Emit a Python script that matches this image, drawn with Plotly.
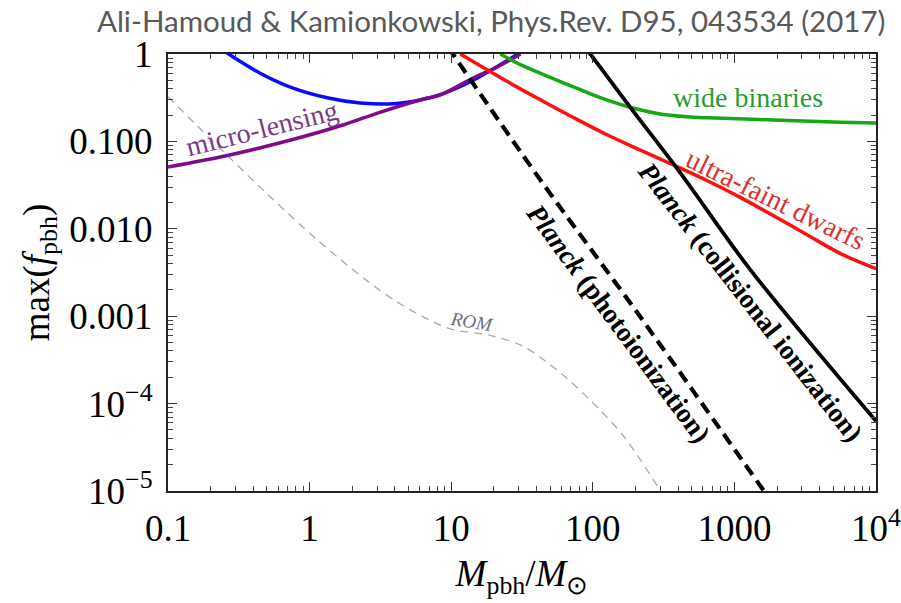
import numpy as np
import plotly.graph_objects as go

# ---- data ----
rom_m = [0.1, 0.158, 0.251, 0.501, 1.12, 2.57, 4.37, 7.41, 10, 19.1, 32.4, 56.2, 95.5, 166, 288, 316]
rom_f = [0.324, 0.155, 0.0741, 0.0251, 0.00759, 0.00251, 0.00138, 0.00087, 0.00071, 0.00060,
         0.00045, 0.00024, 0.00011, 4.2e-5, 1.12e-5, 8.9e-6]

blue_m = [0.251, 0.447, 0.764, 1.33, 2.28, 3.89, 6.03, 8.91, 14.3, 29.5]
blue_f = [1.07, 0.603, 0.407, 0.316, 0.275, 0.269, 0.298, 0.355, 0.50, 1.0]

ml_m = [0.1, 0.263, 0.759, 1.74, 3.02, 6.03, 8.32, 14.3, 21.1, 30.9]
ml_f = [0.051, 0.069, 0.105, 0.155, 0.211, 0.298, 0.339, 0.531, 0.708, 1.0]

wb_m = [22.2, 32.3, 56.1, 81.7, 113, 175, 286, 466, 644, 1890, 5610, 10000]
wb_f = [1.0, 0.73, 0.50, 0.39, 0.316, 0.251, 0.209, 0.191, 0.186, 0.176, 0.166, 0.162]

ufd_m = [11.6, 24.9, 42.6, 72.8, 126, 217, 371, 644, 1100, 1890, 3280, 5610, 10000]
ufd_f = [1.0, 0.484, 0.299, 0.188, 0.119, 0.0794, 0.0537, 0.0355, 0.0229, 0.0141, 0.0085, 0.0052, 0.0035]

photo_m = [9.5, 42.6, 206, 1603, 2500]
photo_f = [1.2, 0.0363, 0.0011, 1.02e-5, 3.7e-6]

coll_m = [90, 184, 415, 1297, 10000]
coll_f = [1.15, 0.245, 0.0437, 0.00339, 6.3e-5]

x_tickvals = [0.1, 1, 10, 100, 1000, 10000]
x_ticktext = ["0.1", "1", "10", "100", "1000", "10<sup>4</sup>"]
y_tickvals = [1, 0.1, 0.01, 0.001, 1e-4, 1e-5]
y_ticktext = ["1", "0.100", "0.010", "0.001", "10<sup>\u22124</sup>", "10<sup>\u22125</sup>"]

# label texts, anchor points (data units), angles, colours, sizes
labels = [
    ("micro-lensing", 0.46, 0.142, -14, "#7a3a8a", 28),
    ("wide binaries", 1256, 0.314, 0, "#2a9a35", 28),
    ("ultra-faint dwarfs", 1950, 0.0215, 26, "#d8332e", 28),
    ("<b><i>Planck</i> (collisional ionization)</b>", 1297, 0.00146, 52, "black", 27.5),
    ("<b><i>Planck</i> (photoionization)</b>", 151, 0.00084, 53.5, "black", 27.5),
    ("<i>ROM</i>", 13.8, 0.00088, 9, "#6e6e80", 19),
]

SERIF = "Liberation Serif"

fig = go.Figure()

def add_line(m, f, color, width, dash=None):
    fig.add_trace(go.Scatter(x=m, y=f, mode="lines", line_shape="spline",
                             line=dict(color=color, width=width, dash=dash, smoothing=0.9),
                             showlegend=False, hoverinfo="skip"))

add_line(rom_m, rom_f, "#a8a8a8", 1.3, "8px,6px")
add_line(blue_m, blue_f, "#0a0aff", 3.5)
add_line(ml_m, ml_f, "#800a8a", 3.5)
add_line(wb_m, wb_f, "#16a816", 3.5)
add_line(ufd_m, ufd_f, "#ff1010", 3.5)
add_line(photo_m, photo_f, "black", 4.2, "12px,7px")
add_line(coll_m, coll_f, "black", 3.8)

for txt, mx, fy, ang, col, size in labels:
    fig.add_annotation(x=np.log10(mx), y=np.log10(fy), xref="x", yref="y", text=txt,
                       showarrow=False, textangle=ang, xanchor="center", yanchor="middle",
                       font=dict(family=SERIF, size=size, color=col))

# citation at top
fig.add_annotation(x=(887 - 168) / 708.0, y=1.0 + 34 / 437.0, xref="paper", yref="paper",
                   xanchor="right", yanchor="middle",
                   text="Ali-Hamoud &amp; Kamionkowski, Phys.Rev. D95, 043534 (2017)",
                   showarrow=False, font=dict(family="Lato", size=29.5, color="#595959"))

minor_x = [k * 10.0 ** e for e in range(-1, 4) for k in range(2, 10)]
minor_y = [k * 10.0 ** e for e in range(-5, 0) for k in range(2, 10)]

axis_common = dict(type="log", showline=True, linecolor="#222", linewidth=2, mirror="ticks",
                   ticks="inside", ticklen=9, tickwidth=1.3, tickcolor="#333",
                   showgrid=False, zeroline=False, automargin=False,
                   ticklabeloverflow="allow",
                   tickfont=dict(family=SERIF, size=37, color="black"))

fig.update_xaxes(range=[-1, 4], tickmode="array", tickvals=x_tickvals, ticktext=x_ticktext,
                 minor=dict(tickmode="array", tickvals=minor_x, ticks="inside", ticklen=5,
                            tickwidth=1, tickcolor="#444", showgrid=False),
                 title=dict(text="<i>M</i><sub>pbh</sub>/<i>M</i><sub>\u2299</sub>",
                            font=dict(family=SERIF, size=37, color="black"), standoff=12),
                 ticklabelstandoff=4,
                 **axis_common)
fig.update_yaxes(range=[-5, 0], tickmode="array", tickvals=y_tickvals, ticktext=y_ticktext,
                 minor=dict(tickmode="array", tickvals=minor_y, ticks="inside", ticklen=5,
                            tickwidth=1, tickcolor="#444", showgrid=False),
                 title=dict(text="max(<i>f</i><sub>pbh</sub>)",
                            font=dict(family=SERIF, size=37, color="black"), standoff=8),
                 ticklabelstandoff=6,
                 **axis_common)

fig.update_layout(width=901, height=603, margin=dict(l=168, r=25, t=54, b=112),
                  paper_bgcolor="white", plot_bgcolor="white", showlegend=False)

fig.write_html("out.html")
